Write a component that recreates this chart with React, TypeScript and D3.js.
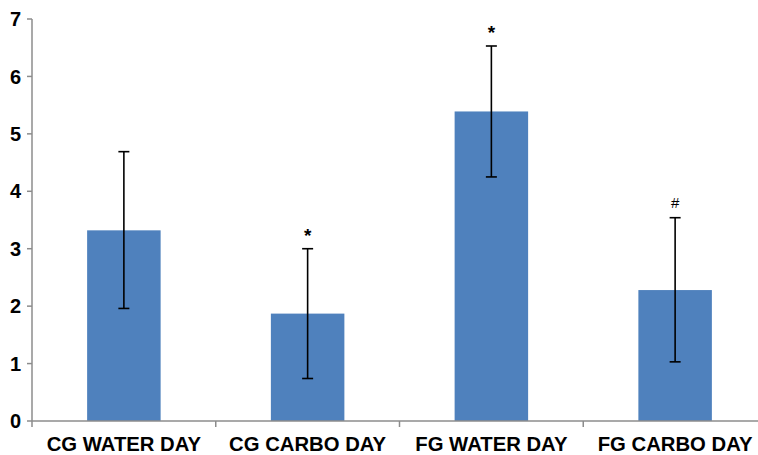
import React from "react";
import * as d3 from "d3";

const categories = ["CG WATER DAY", "CG CARBO DAY", "FG WATER DAY", "FG CARBO DAY"];
const means = [3.32, 1.87, 5.39, 2.28];
const errHigh = [4.69, 3.0, 6.53, 3.54];
const errLow = [1.96, 0.74, 4.25, 1.03];
const marks = ["", "*", "*", "#"];
const yTicks = [0, 1, 2, 3, 4, 5, 6, 7];

const App = () => {
  const width = 758;
  const height = 455;
  const left = 32;
  const right = 767;
  const top = 19;
  const bottom = 421;

  const x = d3
    .scaleBand()
    .domain(categories)
    .range([left, right])
    .paddingInner(0.6)
    .paddingOuter(0.3);
  const y = d3.scaleLinear().domain([0, 7]).range([bottom, top]);
  const step = x.step();
  const font = "'Liberation Sans', Arial, sans-serif";

  return (
    <svg
      width={width}
      height={height}
      style={{ position: "absolute", left: 0, top: 0, background: "#fff" }}
    >
      {/* bars */}
      {categories.map((c, i) => (
        <rect
          key={c}
          x={x(c)}
          y={y(means[i])}
          width={x.bandwidth()}
          height={y(0) - y(means[i])}
          fill="#4F81BD"
        />
      ))}

      {/* axes */}
      <line x1={left} x2={left} y1={top} y2={bottom} stroke="#8c8c8c" strokeWidth={1.5} />
      <line x1={left} x2={width} y1={bottom} y2={bottom} stroke="#8c8c8c" strokeWidth={1.5} />
      {yTicks.map((t) => (
        <g key={t}>
          <line x1={left - 5} x2={left} y1={y(t)} y2={y(t)} stroke="#8c8c8c" strokeWidth={1.5} />
          <text
            x={left - 11}
            y={y(t)}
            dy="0.36em"
            textAnchor="end"
            fontFamily={font}
            fontWeight="bold"
            fontSize={20}
          >
            {t}
          </text>
        </g>
      ))}
      {categories.map((c, i) => (
        <line
          key={c}
          x1={left + i * step}
          x2={left + i * step}
          y1={bottom}
          y2={bottom + 6}
          stroke="#8c8c8c"
          strokeWidth={1.5}
        />
      ))}
      {categories.map((c) => (
        <text
          key={c}
          x={x(c)! + x.bandwidth() / 2}
          y={451}
          textAnchor="middle"
          fontFamily={font}
          fontWeight="bold"
          fontSize={20.3}
        >
          {c}
        </text>
      ))}

      {/* error bars */}
      {categories.map((c, i) => {
        const cx = x(c)! + x.bandwidth() / 2;
        return (
          <g key={c} stroke="#000" strokeWidth={1.6}>
            <line x1={cx} x2={cx} y1={y(errHigh[i])} y2={y(errLow[i])} />
            <line x1={cx - 5.5} x2={cx + 5.5} y1={y(errHigh[i])} y2={y(errHigh[i])} />
            <line x1={cx - 5.5} x2={cx + 5.5} y1={y(errLow[i])} y2={y(errLow[i])} />
          </g>
        );
      })}
      {categories.map((c, i) => (
        <text
          key={c}
          x={x(c)! + x.bandwidth() / 2}
          y={y(errHigh[i]) - (marks[i] === "#" ? 10 : 7)}
          textAnchor="middle"
          fontFamily={font}
          fontWeight={marks[i] === "#" ? "normal" : "bold"}
          fontSize={marks[i] === "#" ? 15 : 19}
        >
          {marks[i]}
        </text>
      ))}
    </svg>
  );
};

export default App;
